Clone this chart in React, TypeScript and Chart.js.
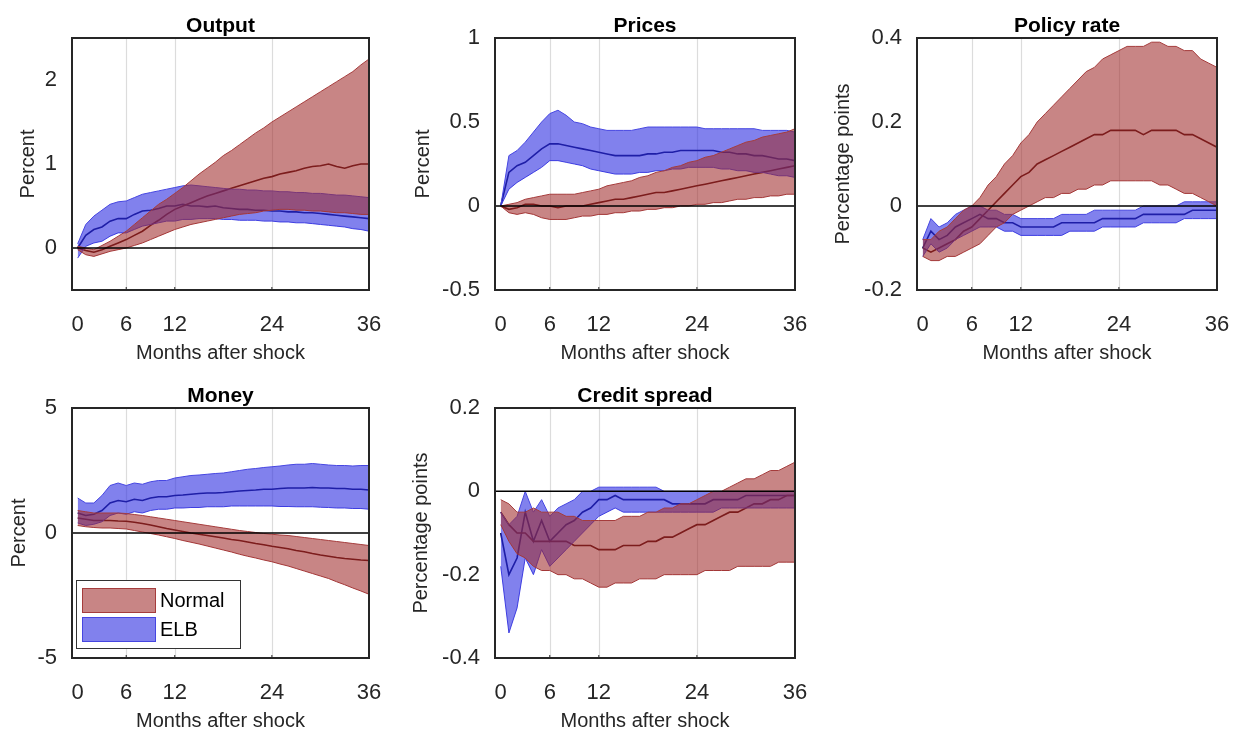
import React, { useEffect, useRef } from "react";
import { Chart, registerables } from "chart.js";
Chart.register(...registerables);

const months = Array.from({ length: 37 }, (_, i) => i);
const xTicks = [0, 6, 12, 24, 36];

const oN_m = [0,-0.03,-0.05,-0.02,0.02,0.06,0.1,0.15,0.2,0.27,0.33,0.4,0.46,0.5,0.54,0.58,0.62,0.65,0.68,0.71,0.74,0.77,0.8,0.83,0.85,0.88,0.9,0.92,0.95,0.97,0.98,1.0,0.97,0.95,0.98,1.0,1.0];
const oN_h = [0.02,0.0,-0.02,0.03,0.08,0.14,0.2,0.28,0.36,0.44,0.52,0.58,0.65,0.72,0.8,0.88,0.95,1.02,1.1,1.16,1.23,1.3,1.37,1.43,1.5,1.56,1.62,1.68,1.74,1.8,1.86,1.92,1.98,2.04,2.1,2.18,2.25];
const oN_l = [-0.02,-0.08,-0.1,-0.07,-0.04,-0.02,0.0,0.03,0.06,0.1,0.14,0.18,0.22,0.25,0.28,0.3,0.32,0.34,0.36,0.38,0.4,0.41,0.42,0.44,0.45,0.46,0.46,0.45,0.45,0.44,0.44,0.43,0.42,0.42,0.41,0.4,0.4];
const oE_m = [0,0.15,0.22,0.25,0.32,0.35,0.35,0.4,0.44,0.45,0.47,0.5,0.5,0.52,0.5,0.5,0.49,0.5,0.48,0.47,0.46,0.46,0.45,0.45,0.44,0.44,0.43,0.43,0.42,0.42,0.41,0.4,0.39,0.38,0.37,0.36,0.35];
const oE_h = [0.05,0.28,0.38,0.45,0.52,0.55,0.56,0.6,0.64,0.66,0.68,0.7,0.72,0.74,0.75,0.74,0.73,0.72,0.71,0.7,0.7,0.69,0.69,0.68,0.68,0.67,0.67,0.66,0.66,0.65,0.65,0.64,0.63,0.63,0.62,0.61,0.6];
const oE_l = [-0.12,0.02,0.06,0.08,0.14,0.18,0.18,0.22,0.26,0.28,0.3,0.32,0.32,0.34,0.34,0.35,0.35,0.35,0.34,0.34,0.33,0.33,0.33,0.32,0.32,0.31,0.31,0.3,0.3,0.29,0.28,0.27,0.26,0.25,0.23,0.22,0.2];

const pN_m = [0,-0.02,-0.01,0.01,0.01,0.0,0.0,-0.01,0.0,0.0,0.0,0.01,0.02,0.03,0.04,0.04,0.05,0.06,0.07,0.08,0.08,0.09,0.1,0.11,0.12,0.13,0.14,0.15,0.16,0.17,0.18,0.19,0.2,0.21,0.22,0.23,0.24];
const pN_h = [0,0.01,0.02,0.04,0.05,0.06,0.07,0.07,0.07,0.07,0.08,0.09,0.1,0.12,0.13,0.14,0.15,0.17,0.18,0.2,0.21,0.23,0.24,0.26,0.27,0.29,0.3,0.32,0.34,0.36,0.38,0.39,0.41,0.42,0.43,0.44,0.46];
const pN_l = [0,-0.04,-0.05,-0.04,-0.05,-0.07,-0.08,-0.08,-0.08,-0.07,-0.06,-0.06,-0.05,-0.05,-0.04,-0.04,-0.03,-0.03,-0.02,-0.02,-0.01,-0.01,0,0,0.01,0.01,0.02,0.02,0.03,0.04,0.04,0.05,0.05,0.06,0.06,0.07,0.07];
const pE_m = [0,0.2,0.24,0.26,0.3,0.34,0.37,0.37,0.36,0.35,0.34,0.33,0.32,0.31,0.3,0.3,0.3,0.3,0.31,0.31,0.32,0.32,0.33,0.33,0.33,0.33,0.33,0.32,0.32,0.31,0.31,0.3,0.3,0.29,0.28,0.28,0.27];
const pE_h = [0,0.3,0.33,0.38,0.44,0.5,0.55,0.57,0.54,0.5,0.49,0.47,0.46,0.45,0.45,0.45,0.45,0.46,0.47,0.47,0.47,0.47,0.47,0.47,0.47,0.46,0.46,0.46,0.46,0.46,0.46,0.46,0.45,0.45,0.45,0.45,0.44];
const pE_l = [0,0.1,0.14,0.17,0.2,0.23,0.27,0.27,0.26,0.25,0.24,0.22,0.21,0.2,0.19,0.19,0.19,0.2,0.2,0.21,0.21,0.22,0.22,0.23,0.23,0.23,0.23,0.22,0.22,0.21,0.21,0.2,0.2,0.19,0.18,0.18,0.17];

const rN_m = [-0.1,-0.11,-0.1,-0.09,-0.08,-0.06,-0.05,-0.03,-0.01,0.01,0.03,0.05,0.07,0.08,0.1,0.11,0.12,0.13,0.14,0.15,0.16,0.17,0.17,0.18,0.18,0.18,0.18,0.17,0.18,0.18,0.18,0.18,0.17,0.17,0.16,0.15,0.14];
const rN_h = [-0.08,-0.08,-0.06,-0.05,-0.03,-0.01,0.0,0.02,0.05,0.07,0.1,0.12,0.15,0.17,0.2,0.22,0.24,0.26,0.28,0.3,0.32,0.33,0.35,0.36,0.37,0.38,0.38,0.38,0.39,0.39,0.38,0.38,0.37,0.37,0.35,0.34,0.33];
const rN_l = [-0.12,-0.13,-0.13,-0.12,-0.12,-0.11,-0.1,-0.09,-0.07,-0.05,-0.04,-0.02,-0.01,0.0,0.01,0.02,0.02,0.03,0.03,0.04,0.04,0.05,0.05,0.06,0.06,0.06,0.06,0.06,0.06,0.05,0.05,0.04,0.03,0.03,0.02,0.01,0.0];
const rE_m = [-0.1,-0.06,-0.08,-0.07,-0.05,-0.04,-0.03,-0.02,-0.03,-0.03,-0.04,-0.04,-0.05,-0.05,-0.05,-0.05,-0.05,-0.04,-0.04,-0.04,-0.04,-0.04,-0.03,-0.03,-0.03,-0.03,-0.03,-0.02,-0.02,-0.02,-0.02,-0.02,-0.02,-0.01,-0.01,-0.01,-0.01];
const rE_h = [-0.08,-0.03,-0.05,-0.04,-0.02,-0.01,0.0,0.0,-0.01,-0.01,-0.02,-0.02,-0.03,-0.03,-0.03,-0.03,-0.03,-0.02,-0.02,-0.02,-0.02,-0.01,-0.01,-0.01,-0.01,-0.01,-0.01,0.0,0.0,0.0,0.0,0.0,0.01,0.01,0.01,0.01,0.01];
const rE_l = [-0.12,-0.09,-0.11,-0.1,-0.08,-0.07,-0.06,-0.05,-0.05,-0.05,-0.06,-0.06,-0.07,-0.07,-0.07,-0.07,-0.07,-0.07,-0.06,-0.06,-0.06,-0.06,-0.05,-0.05,-0.05,-0.05,-0.05,-0.04,-0.04,-0.04,-0.04,-0.04,-0.03,-0.03,-0.03,-0.03,-0.03];

const mN_m = [0.6,0.55,0.5,0.5,0.5,0.48,0.47,0.43,0.38,0.32,0.25,0.18,0.12,0.06,0.0,-0.05,-0.1,-0.15,-0.2,-0.26,-0.3,-0.36,-0.42,-0.47,-0.53,-0.58,-0.63,-0.7,-0.75,-0.82,-0.88,-0.93,-0.98,-1.02,-1.05,-1.08,-1.1];
const mN_h = [0.9,0.85,0.8,0.8,0.8,0.8,0.78,0.74,0.7,0.65,0.6,0.55,0.5,0.45,0.4,0.35,0.3,0.25,0.2,0.15,0.1,0.06,0.02,-0.02,-0.05,-0.08,-0.1,-0.14,-0.18,-0.22,-0.26,-0.3,-0.34,-0.38,-0.42,-0.46,-0.5];
const mN_l = [0.3,0.25,0.22,0.2,0.2,0.18,0.16,0.1,0.04,-0.02,-0.08,-0.15,-0.22,-0.3,-0.37,-0.44,-0.52,-0.6,-0.68,-0.76,-0.85,-0.93,-1.0,-1.08,-1.15,-1.24,-1.32,-1.42,-1.52,-1.62,-1.72,-1.82,-1.95,-2.07,-2.2,-2.32,-2.45];
const mE_m = [0.8,0.7,0.75,0.9,1.2,1.3,1.25,1.35,1.3,1.4,1.45,1.45,1.5,1.52,1.55,1.58,1.6,1.6,1.62,1.65,1.68,1.7,1.72,1.75,1.75,1.78,1.8,1.8,1.8,1.82,1.8,1.8,1.78,1.78,1.75,1.75,1.72];
const mE_h = [1.4,1.2,1.2,1.5,1.9,2.0,1.9,2.0,1.95,2.05,2.1,2.1,2.2,2.25,2.3,2.32,2.35,2.38,2.4,2.45,2.5,2.55,2.58,2.62,2.65,2.68,2.72,2.75,2.75,2.78,2.75,2.72,2.7,2.7,2.68,2.7,2.7];
const mE_l = [0.4,0.3,0.35,0.45,0.7,0.8,0.75,0.85,0.8,0.9,0.95,0.95,1.0,1.0,1.02,1.02,1.05,1.05,1.05,1.08,1.08,1.08,1.08,1.08,1.08,1.06,1.06,1.05,1.05,1.05,1.03,1.02,1.0,1.0,0.98,0.98,0.95];

const cN_m = [-0.05,-0.08,-0.1,-0.1,-0.12,-0.12,-0.12,-0.12,-0.12,-0.13,-0.13,-0.13,-0.14,-0.14,-0.14,-0.13,-0.13,-0.13,-0.12,-0.12,-0.11,-0.11,-0.1,-0.09,-0.08,-0.08,-0.07,-0.06,-0.05,-0.05,-0.04,-0.03,-0.03,-0.02,-0.02,-0.01,-0.01];
const cN_h = [-0.02,-0.03,-0.05,-0.05,-0.04,-0.05,-0.05,-0.05,-0.06,-0.06,-0.07,-0.07,-0.07,-0.07,-0.07,-0.06,-0.06,-0.06,-0.05,-0.05,-0.04,-0.04,-0.03,-0.03,-0.02,-0.01,0,0,0.01,0.02,0.03,0.03,0.04,0.05,0.05,0.06,0.07];
const cN_l = [-0.08,-0.12,-0.15,-0.16,-0.18,-0.19,-0.19,-0.2,-0.2,-0.21,-0.21,-0.22,-0.23,-0.23,-0.22,-0.22,-0.22,-0.21,-0.21,-0.21,-0.2,-0.2,-0.2,-0.2,-0.2,-0.19,-0.19,-0.19,-0.19,-0.18,-0.18,-0.18,-0.18,-0.18,-0.17,-0.17,-0.17];
const cE_m = [-0.1,-0.2,-0.16,-0.05,-0.12,-0.07,-0.12,-0.1,-0.08,-0.07,-0.05,-0.04,-0.02,-0.02,-0.01,-0.02,-0.02,-0.02,-0.02,-0.02,-0.02,-0.03,-0.03,-0.03,-0.03,-0.03,-0.02,-0.02,-0.02,-0.02,-0.01,-0.01,-0.01,-0.01,-0.01,-0.01,-0.01];
const cE_h = [-0.05,-0.08,-0.06,0,-0.05,-0.02,-0.06,-0.04,-0.03,-0.02,0,0,0.01,0.01,0.01,0.01,0.01,0.01,0.01,0.01,0,0,0,0,0,0,0,0,0,0,0,0,0,0,0,0,0];
const cE_l = [-0.18,-0.34,-0.28,-0.16,-0.2,-0.14,-0.18,-0.16,-0.14,-0.12,-0.1,-0.08,-0.06,-0.05,-0.04,-0.05,-0.05,-0.05,-0.05,-0.05,-0.05,-0.05,-0.05,-0.05,-0.05,-0.05,-0.05,-0.04,-0.04,-0.04,-0.04,-0.04,-0.04,-0.04,-0.04,-0.04,-0.04];

const RED_FILL = "rgba(160,45,45,0.58)";
const RED_EDGE = "rgb(165,60,60)";
const BLUE_FILL = "rgba(45,45,225,0.6)";
const BLUE_EDGE = "rgb(70,70,225)";
const RED_LINE = "#4a0505";
const BLUE_LINE = "#080850";
const FONT = "'Liberation Sans', Arial, sans-serif";

type Panel = {
  title: string; ylabel: string; ymin: number; ymax: number; yticks: number[];
  n: number[][]; e: number[][]; left: number; top: number; w: number; h: number;
  yw: number; pr: number; xh: number; yl: number; legend?: boolean;
};

const panels: Panel[] = [
  { title: "Output", ylabel: "Percent", ymin: -0.5, ymax: 2.5, yticks: [0, 1, 2], n: [oN_h, oN_l, oN_m], e: [oE_h, oE_l, oE_m], left: 0, top: 0, w: 400, h: 370, yw: 72, pr: 31, xh: 80, yl: 44 },
  { title: "Prices", ylabel: "Percent", ymin: -0.5, ymax: 1, yticks: [-0.5, 0, 0.5, 1], n: [pN_h, pN_l, pN_m], e: [pE_h, pE_l, pE_m], left: 400, top: 0, w: 420, h: 370, yw: 95, pr: 25, xh: 80, yl: 72 },
  { title: "Policy rate", ylabel: "Percentage points", ymin: -0.2, ymax: 0.4, yticks: [-0.2, 0, 0.2, 0.4], n: [rN_h, rN_l, rN_m], e: [rE_h, rE_l, rE_m], left: 824, top: 0, w: 412, h: 370, yw: 93, pr: 19, xh: 80, yl: 74 },
  { title: "Money", ylabel: "Percent", ymin: -5, ymax: 5, yticks: [-5, 0, 5], n: [mN_h, mN_l, mN_m], e: [mE_h, mE_l, mE_m], left: 0, top: 370, w: 400, h: 362, yw: 72, pr: 31, xh: 74, yl: 53, legend: true },
  { title: "Credit spread", ylabel: "Percentage points", ymin: -0.4, ymax: 0.2, yticks: [-0.4, -0.2, 0, 0.2], n: [cN_h, cN_l, cN_m], e: [cE_h, cE_l, cE_m], left: 400, top: 370, w: 420, h: 362, yw: 95, pr: 25, xh: 74, yl: 74 },
];

function PanelChart({ p }: { p: Panel }) {
  const ref = useRef<HTMLCanvasElement>(null);
  useEffect(() => {
    const mk = (arr: number[]) => months.map((x, i) => ({ x, y: arr[i] }));
    const band = (hi: number[], lo: number[], fill: string, edge: string) => [
      { data: mk(hi), borderColor: edge, borderWidth: 1, backgroundColor: fill, fill: "+1", pointRadius: 0, tension: 0 },
      { data: mk(lo), borderColor: edge, borderWidth: 1, fill: false, pointRadius: 0, tension: 0 },
    ];
    const deco = {
      id: "deco",
      beforeDatasetsDraw(chart: any) {
        const { ctx, chartArea: a, scales } = chart;
        ctx.save();
        ctx.strokeStyle = "#dcdcdc";
        ctx.lineWidth = 1.2;
        [6, 12, 24].forEach((t) => {
          const x = Math.round(scales.x.getPixelForValue(t)) + 0.5;
          ctx.beginPath(); ctx.moveTo(x, a.top); ctx.lineTo(x, a.bottom); ctx.stroke();
        });
        ctx.restore();
      },
      afterDatasetsDraw(chart: any) {
        const { ctx, chartArea: a, scales } = chart;
        ctx.save();
        ctx.strokeStyle = "#000";
        ctx.lineWidth = 1.5;
        const y0 = scales.y.getPixelForValue(0);
        ctx.beginPath(); ctx.moveTo(a.left, y0); ctx.lineTo(a.right, y0); ctx.stroke();
        ctx.strokeStyle = "#262626";
        ctx.lineWidth = 1;
        [6, 12, 24].forEach((t) => {
          const x = scales.x.getPixelForValue(t);
          ctx.beginPath(); ctx.moveTo(x, a.bottom); ctx.lineTo(x, a.bottom - 3); ctx.stroke();
        });
        ctx.lineWidth = 2;
        ctx.strokeRect(Math.round(a.left), Math.round(a.top), Math.round(a.right - a.left), Math.round(a.bottom - a.top));
        ctx.fillStyle = "#000";
        ctx.font = `bold 21px ${FONT}`;
        ctx.textAlign = "center";
        ctx.textBaseline = "middle";
        ctx.fillText(p.title, (a.left + a.right) / 2, a.top - 12);
        ctx.fillStyle = "#262626";
        ctx.font = `20px ${FONT}`;
        ctx.fillText("Months after shock", (a.left + a.right) / 2, a.bottom + 63);
        ctx.save();
        ctx.translate(a.left - p.yl, (a.top + a.bottom) / 2);
        ctx.rotate(-Math.PI / 2);
        ctx.fillText(p.ylabel, 0, 0);
        ctx.restore();
        if (p.legend) {
          const lx = a.left + 4, ly = a.top + 172, lw = 164, lh = 68;
          ctx.fillStyle = "#fff";
          ctx.fillRect(lx, ly, lw, lh);
          ctx.strokeStyle = "#333";
          ctx.lineWidth = 1;
          ctx.strokeRect(lx + 0.5, ly + 0.5, lw, lh);
          const items = [["Normal", RED_FILL, RED_EDGE], ["ELB", BLUE_FILL, BLUE_EDGE]];
          ctx.font = `20px ${FONT}`;
          items.forEach(([lab, f, e], i) => {
            const sy = ly + 8 + i * 29;
            ctx.fillStyle = f; ctx.fillRect(lx + 6, sy, 73, 24);
            ctx.strokeStyle = e; ctx.strokeRect(lx + 6.5, sy + 0.5, 73, 24);
            ctx.fillStyle = "#000"; ctx.textAlign = "left";
            ctx.fillText(lab, lx + 84, sy + 13);
          });
        }
        ctx.restore();
      },
    };
    const chart = new Chart(ref.current!, {
      type: "line",
      data: {
        datasets: [
          ...band(p.n[0], p.n[1], RED_FILL, RED_EDGE),
          ...band(p.e[0], p.e[1], BLUE_FILL, BLUE_EDGE),
          { data: mk(p.n[2]), borderColor: RED_LINE, borderWidth: 1.6, fill: false, pointRadius: 0 },
          { data: mk(p.e[2]), borderColor: BLUE_LINE, borderWidth: 1.6, fill: false, pointRadius: 0 },
        ] as any,
      },
      options: {
        animation: false,
        responsive: false,
        devicePixelRatio: 1,
        layout: { padding: { left: 0, right: p.pr, top: 38, bottom: 0 } },
        plugins: { legend: { display: false }, tooltip: { enabled: false } },
        scales: {
          x: {
            type: "linear", min: -0.7, max: 36,
            afterBuildTicks: (s: any) => { s.ticks = xTicks.map((v) => ({ value: v })); },
            afterFit: (s: any) => { s.height = p.xh; s.paddingRight = 0; s.paddingLeft = 0; },
            grid: { display: false },
            border: { display: false },
            ticks: { color: "#262626", font: { size: 22, family: FONT }, padding: 14, maxRotation: 0, autoSkip: false },
          },
          y: {
            type: "linear", min: p.ymin, max: p.ymax,
            afterBuildTicks: (s: any) => { s.ticks = p.yticks.map((v) => ({ value: v })); },
            afterFit: (s: any) => { s.width = p.yw; s.paddingTop = 0; s.paddingBottom = 0; },
            grid: { display: false },
            border: { display: false },
            ticks: { color: "#262626", font: { size: 22, family: FONT }, padding: 7, callback: (v: any) => String(v) },
          },
        },
      } as any,
      plugins: [deco],
    });
    return () => chart.destroy();
  }, [p]);
  return (
    <canvas ref={ref} width={p.w} height={p.h}
      style={{ position: "absolute", left: p.left, top: p.top, width: p.w, height: p.h }} />
  );
}

export default function App() {
  return (
    <div style={{ position: "absolute", left: 0, top: 0, width: 1236, height: 732, background: "#fff" }}>
      {panels.map((p) => <PanelChart key={p.title} p={p} />)}
    </div>
  );
}
